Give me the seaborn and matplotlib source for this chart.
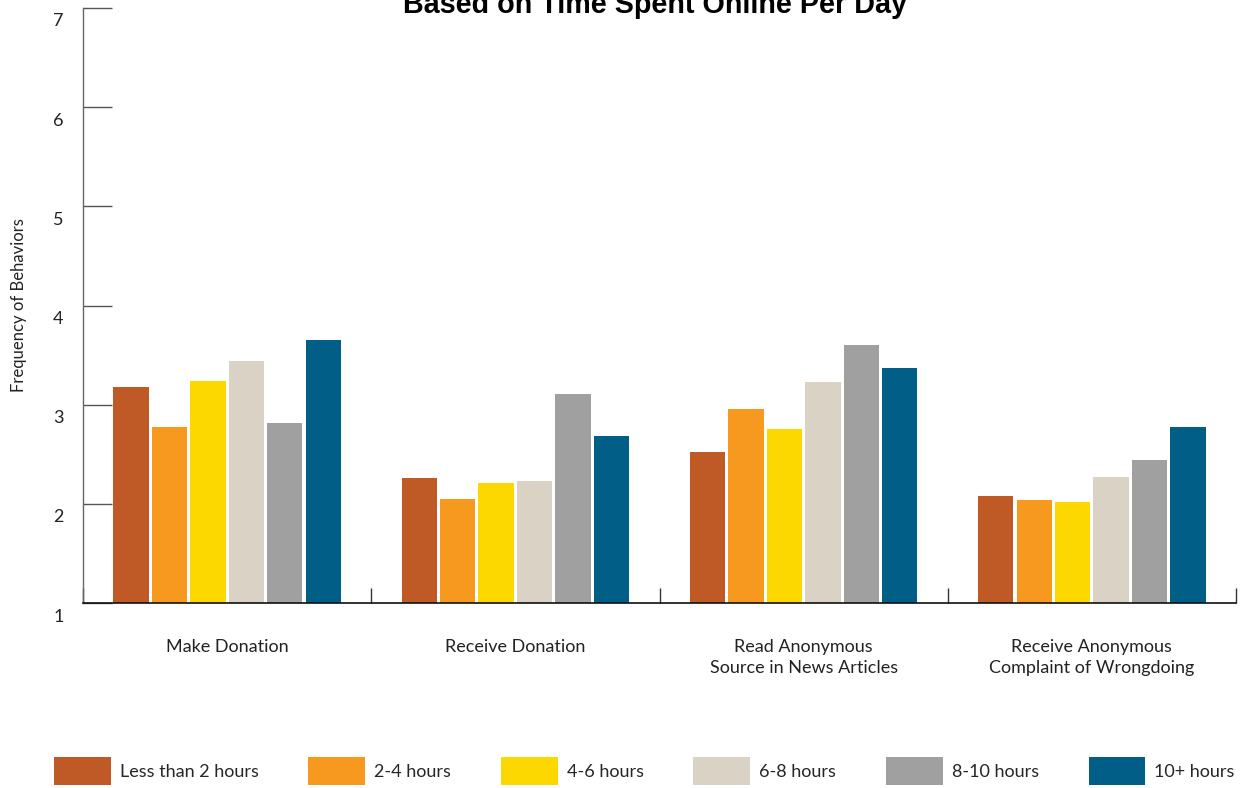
import numpy as np
import pandas as pd
import matplotlib
matplotlib.use("Agg")
import matplotlib.pyplot as plt
import matplotlib.transforms as mtransforms
from matplotlib.patches import Patch
import seaborn as sns

categories = ["Make Donation", "Receive Donation",
              "Read Anonymous\nSource in News Articles",
              "Receive Anonymous\nComplaint of Wrongdoing"]
groups = ["Less than 2 hours", "2-4 hours", "4-6 hours", "6-8 hours", "8-10 hours", "10+ hours"]
less_than_2 = [3.18, 2.26, 2.52, 2.08]
h2_4 = [2.77, 2.05, 2.96, 2.04]
h4_6 = [3.24, 2.21, 2.75, 2.02]
h6_8 = [3.44, 2.23, 3.23, 2.27]
h8_10 = [2.82, 3.11, 3.60, 2.44]
h10_plus = [3.65, 2.68, 3.37, 2.77]
colors = ["#BF5A27", "#F7981F", "#FDD700", "#D9D2C5", "#A0A0A0", "#005E87"]
yticks = [1, 2, 3, 4, 5, 6, 7]

series = [less_than_2, h2_4, h4_6, h6_8, h8_10, h10_plus]
rows = []
for g, vals in zip(groups, series):
    for c, v in zip(categories, vals):
        rows.append({"category": c, "group": g, "value": v})
df = pd.DataFrame(rows)

sns.set_style("white")
plt.rcParams["font.family"] = ["Lato", "DejaVu Sans"]

fig = plt.figure(figsize=(12.41, 7.88), dpi=100)
ax = fig.add_axes([83 / 1241, 1 - 603 / 788, (1236 - 83) / 1241, (603 - 8) / 788])

sns.barplot(data=df, x="category", y="value", hue="group", order=categories,
            hue_order=groups, palette=colors, width=0.8, gap=0.08,
            saturation=1, ax=ax, legend=False, linewidth=0)

ax.set_xlim(-0.5, 3.5)
ax.set_ylim(1, 7)
ax.set_yticks(yticks)
ax.set_yticklabels([str(t) for t in yticks], fontsize=13, color="#222222")
ax.tick_params(axis="y", left=True, direction="in", length=21, width=1, color="#555555", pad=14)
offset = mtransforms.ScaledTranslation(0, -0.12, fig.dpi_scale_trans)
for lab in ax.get_yticklabels():
    lab.set_transform(lab.get_transform() + offset)

ax.set_xticks(range(len(categories)))
ax.set_xticklabels(categories, fontsize=13, color="#222222", linespacing=1.35)
ax.tick_params(axis="x", which="major", bottom=False, length=0, pad=26)
ax.set_xticks([-0.5, 0.5, 1.5, 2.5, 3.5], minor=True)
ax.tick_params(axis="x", which="minor", bottom=True, direction="in", length=11, width=1, color="#333333")
ax.set_xlabel("")
ax.set_ylabel("Frequency of Behaviors", fontsize=12, color="#222222", labelpad=19)

for s in ["top", "right"]:
    ax.spines[s].set_visible(False)
ax.spines["left"].set_color("#666666")
ax.spines["bottom"].set_color("#111111")
ax.spines["left"].set_linewidth(1)
ax.spines["bottom"].set_linewidth(1.2)

fig.text(655 / 1241, 1 - 13 / 788, "Based on Time Spent Online Per Day",
         ha="center", va="baseline", fontsize=20.7, fontweight="bold",
         family=["Liberation Sans", "DejaVu Sans"], color="#000000")

handles = [Patch(facecolor=c, edgecolor="none", label=g) for c, g in zip(colors, groups)]
fig.legend(handles=handles, loc="center left", bbox_to_anchor=(54 / 1241, 1 - 771 / 788),
           ncol=6, frameon=False, fontsize=13, handlelength=3.15, handleheight=2.0,
           handletextpad=0.5, columnspacing=2.75, borderaxespad=0, borderpad=0)

fig.savefig("out.png", dpi=100)
